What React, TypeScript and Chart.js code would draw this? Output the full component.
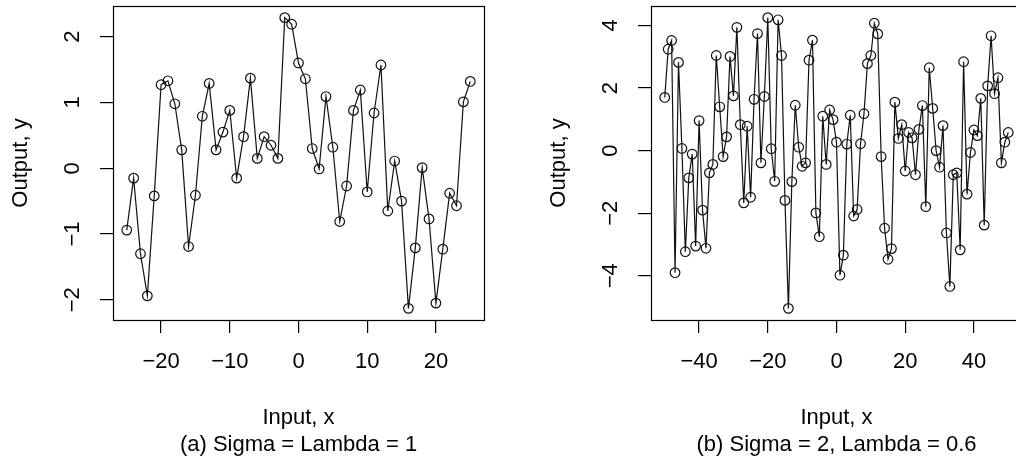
import React, { useEffect, useRef } from "react";
import { Chart, registerables } from "chart.js";

Chart.register(...registerables);

// ---- Data: panel (a) Sigma = Lambda = 1 ----
const xA = [
  -25, -24, -23, -22, -21, -20, -19, -18, -17, -16, -15, -14, -13, -12, -11, -10, -9, -8, -7, -6, -5, -4, -3, -2, -1,
  0, 1, 2, 3, 4, 5, 6, 7, 8, 9, 10, 11, 12, 13, 14, 15, 16, 17, 18, 19, 20, 21, 22, 23, 24, 25,
];
const yA = [
  -0.94, -0.15, -1.3, -1.94, -0.42, 1.27, 1.33, 0.98, 0.28, -1.19, -0.41, 0.79, 1.29, 0.28, 0.55, 0.88, -0.15, 0.48,
  1.37, 0.15, 0.48, 0.35, 0.15, 2.29, 2.19, 1.6, 1.36, 0.3, -0.01, 1.09, 0.32, -0.81, -0.27, 0.88, 1.19, -0.36, 0.84,
  1.57, -0.65, 0.11, -0.5, -2.13, -1.21, 0.01, -0.77, -2.05, -1.23, -0.38, -0.57, 1.01, 1.32,
];
const xTicksA = [-20, -10, 0, 10, 20];
const yTicksA = [-2, -1, 0, 1, 2];

// ---- Data: panel (b) Sigma = 2, Lambda = 0.6 ----
const xB = [
  -50, -49, -48, -47, -46, -45, -44, -43, -42, -41, -40, -39, -38, -37, -36, -35, -34, -33, -32, -31, -30, -29, -28,
  -27, -26, -25, -24, -23, -22, -21, -20, -19, -18, -17, -16, -15, -14, -13, -12, -11, -10, -9, -8, -7, -6, -5, -4,
  -3, -2, -1, 0, 1, 2, 3, 4, 5, 6, 7, 8, 9, 10, 11, 12, 13, 14, 15, 16, 17, 18, 19, 20, 21, 22, 23, 24, 25, 26, 27,
  28, 29, 30, 31, 32, 33, 34, 35, 36, 37, 38, 39, 40, 41, 42, 43, 44, 45, 46, 47, 48, 49, 50,
];
const yB = [
  1.7, 3.24, 3.52, -3.9, 2.82, 0.07, -3.23, -0.87, -0.11, -3.05, 0.96, -1.9, -3.12, -0.71, -0.44, 3.04, 1.4, -0.19,
  0.44, 3.01, 1.75, 3.94, 0.83, -1.67, 0.78, -1.49, 1.64, 3.74, -0.39, 1.73, 4.25, 0.06, -0.98, 4.18, 3.04, -1.59,
  -5.04, -0.99, 1.45, 0.11, -0.5, -0.39, 2.89, 3.53, -1.99, -2.75, 1.1, -0.44, 1.3, 0.99, 0.27, -3.98, -3.34, 0.21,
  1.13, -2.09, -1.88, 0.22, 1.18, 2.78, 3.04, 4.07, 3.73, -0.19, -2.48, -3.47, -3.13, 1.55, 0.39, 0.83, -0.65, 0.58,
  0.41, -0.77, 0.68, 1.44, -1.79, 2.65, 1.35, 0.0, -0.53, 0.8, -2.63, -4.34, -0.77, -0.71, -3.17, 2.84, -1.39, -0.06,
  0.66, 0.48, 1.67, -2.38, 2.07, 3.67, 1.82, 2.33, -0.39, 0.27, 0.58,
];
const xTicksB = [-40, -20, 0, 20, 40];
const yTicksB = [-4, -2, 0, 2, 4];

const titleA = ["Input, x", "(a) Sigma = Lambda = 1"];
const titleB = ["Input, x", "(b) Sigma = 2, Lambda = 0.6"];
const yTitle = "Output, y";

const FONT = '"Liberation Sans", Arial, Helvetica, sans-serif';
const FS = 22;
const W = 538;
const H = 459;

const fmt = (v: number) => (v < 0 ? "\u2212" + Math.abs(v) : String(v));

const boxPlugin = {
  id: "rbox",
  afterDraw(chart: any) {
    const { ctx, chartArea } = chart;
    ctx.save();
    ctx.strokeStyle = "#000";
    ctx.lineWidth = 1.2;
    const l = Math.round(chartArea.left) + 0.5;
    const t = Math.round(chartArea.top) + 0.5;
    const r = Math.round(chartArea.right) + 0.5;
    const b = Math.round(chartArea.bottom) + 0.5;
    ctx.strokeRect(l, t, r - l, b - t);
    ctx.restore();
  },
};

function makeConfig(xs: number[], ys: number[], xt: number[], yt: number[], xTitle: string[]): any {
  const xmin = Math.min(...xs);
  const xmax = Math.max(...xs);
  const ymin = Math.min(...ys);
  const ymax = Math.max(...ys);
  const dx = (xmax - xmin) * 0.04;
  const dy = (ymax - ymin) * 0.04;
  const font = { family: FONT, size: FS, lineHeight: 1.2 };
  const grid = {
    display: true,
    drawOnChartArea: false,
    drawTicks: true,
    tickLength: 13,
    color: "#000",
    lineWidth: 1.2,
  };
  return {
    type: "line",
    data: {
      datasets: [
        {
          data: xs.map((x, i) => ({ x, y: ys[i] })),
          borderColor: "#111",
          borderWidth: 1.2,
          pointRadius: 4.8,
          pointBorderWidth: 1.2,
          pointBorderColor: "#111",
          pointBackgroundColor: "rgba(0,0,0,0)",
          tension: 0,
          fill: false,
        },
      ],
    },
    options: {
      animation: false,
      responsive: false,
      devicePixelRatio: 1,
      events: [],
      layout: { padding: { left: 0, top: 6, right: 54, bottom: 0 } },
      plugins: { legend: { display: false }, tooltip: { enabled: false }, title: { display: false } },
      scales: {
        x: {
          type: "linear",
          position: "bottom",
          min: xmin - dx,
          max: xmax + dx,
          afterBuildTicks: (s: any) => {
            s.ticks = xt.map((v) => ({ value: v }));
          },
          afterFit: (s: any) => {
            s.height = 139;
            s.paddingLeft = 0;
            s.paddingRight = 0;
          },
          grid,
          border: { display: false },
          ticks: {
            autoSkip: false,
            maxRotation: 0,
            minRotation: 0,
            padding: 16,
            color: "#000",
            font,
            callback: (v: any) => fmt(Number(v)),
          },
          title: {
            display: true,
            text: xTitle,
            color: "#000",
            font: { family: FONT, size: FS, lineHeight: 1.2 },
            padding: { top: 0, bottom: 1 },
          },
        },
        y: {
          type: "linear",
          position: "left",
          min: ymin - dy,
          max: ymax + dy,
          afterBuildTicks: (s: any) => {
            s.ticks = yt.map((v) => ({ value: v }));
          },
          afterFit: (s: any) => {
            s.width = 113;
            s.paddingTop = 0;
            s.paddingBottom = 0;
          },
          grid,
          border: { display: false },
          ticks: {
            autoSkip: false,
            minRotation: 90,
            maxRotation: 90,
            crossAlign: "center",
            padding: 14.7,
            color: "#000",
            font,
            callback: (v: any) => fmt(Number(v)),
          },
          title: {
            display: true,
            text: yTitle,
            color: "#000",
            font: { family: FONT, size: FS, lineHeight: 1.2 },
            padding: { top: 8, bottom: 0 },
          },
        },
      },
    },
    plugins: [boxPlugin],
  };
}

function Panel({ cfg, left }: { cfg: any; left: number }) {
  const ref = useRef<HTMLCanvasElement | null>(null);
  useEffect(() => {
    if (!ref.current) return;
    const chart = new Chart(ref.current, cfg);
    return () => chart.destroy();
  }, [cfg]);
  return (
    <canvas
      ref={ref}
      width={W}
      height={H}
      style={{ position: "absolute", left, top: 0, width: W, height: H }}
    />
  );
}

const cfgA = makeConfig(xA, yA, xTicksA, yTicksA, titleA);
const cfgB = makeConfig(xB, yB, xTicksB, yTicksB, titleB);

export default function App() {
  return (
    <div
      style={{
        position: "fixed",
        left: 0,
        top: 0,
        width: 1016,
        height: 459,
        overflow: "hidden",
        background: "#fff",
      }}
    >
      <Panel cfg={cfgA} left={0} />
      <Panel cfg={cfgB} left={538} />
    </div>
  );
}
